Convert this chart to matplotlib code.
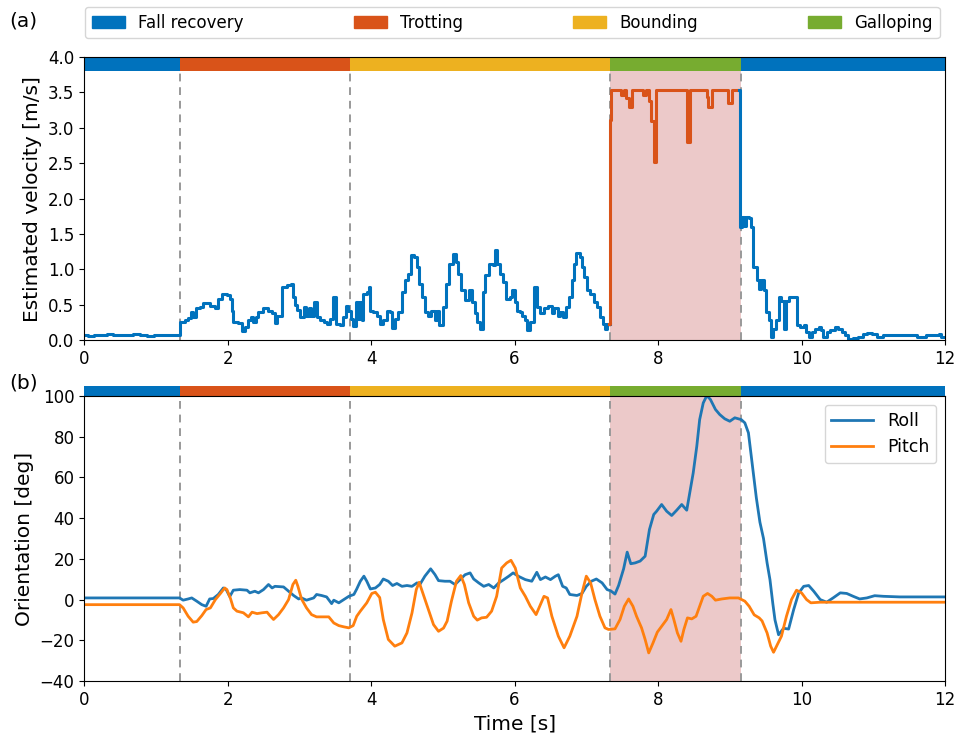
import numpy as np
import matplotlib
matplotlib.use('Agg')
from matplotlib import pyplot as plt
from matplotlib.patches import Patch, Rectangle
import matplotlib.transforms as mtrans

plt.rcParams['font.size'] = 12

# gait phases
phase_names = ['Fall recovery', 'Trotting', 'Bounding', 'Galloping']
phase_colors = ['#0072BD', '#D95319', '#EDB120', '#77AC30']
phase_bounds = [0, 1.33, 3.70, 7.33, 9.15, 12]
phase_seq = [0, 1, 2, 3, 0]
fall_span = (7.33, 9.15)

# estimated velocity (step data)
vel1_t = [0.00, 0.06, 0.14, 0.22, 0.32, 0.40, 0.50, 0.60, 0.68, 0.78, 0.88, 0.98, 1.08, 1.18, 1.26,
          1.34, 1.40, 1.45, 1.49, 1.52, 1.56, 1.62, 1.66, 1.71, 1.76, 1.83, 1.87, 1.92, 1.99, 2.03,
          2.06, 2.08, 2.15, 2.20, 2.24, 2.28, 2.32, 2.36, 2.40, 2.43, 2.50, 2.57, 2.62, 2.66, 2.69,
          2.76, 2.83, 2.88, 2.91, 2.94, 2.97, 3.01, 3.06, 3.09, 3.13, 3.16, 3.20, 3.24, 3.29, 3.34,
          3.38, 3.43, 3.47, 3.51, 3.57, 3.61, 3.65, 3.68, 3.72, 3.75, 3.79, 3.82, 3.85, 3.87, 3.89,
          3.94, 3.97, 3.99, 4.03, 4.08, 4.12, 4.17, 4.22, 4.26, 4.29, 4.33, 4.38, 4.43, 4.47, 4.52,
          4.55, 4.60, 4.64, 4.67, 4.71, 4.75, 4.80, 4.84, 4.89, 4.92, 4.95, 5.00, 5.05, 5.09, 5.14,
          5.18, 5.21, 5.26, 5.31, 5.36, 5.40, 5.45, 5.48, 5.52, 5.56, 5.59, 5.65, 5.70, 5.73, 5.76,
          5.80, 5.84, 5.88, 5.93, 5.97, 6.01, 6.04, 6.08, 6.11, 6.14, 6.18, 6.22, 6.27, 6.31, 6.35,
          6.41, 6.47, 6.52, 6.55, 6.60, 6.63, 6.67, 6.72, 6.76, 6.80, 6.83, 6.86, 6.91, 6.94, 6.97,
          7.01, 7.05, 7.11, 7.15, 7.19, 7.23, 7.26, 7.29, 7.33]
vel1_v = [0.08, 0.06, 0.07, 0.08, 0.09, 0.08, 0.08, 0.07, 0.09, 0.07, 0.06, 0.08, 0.07, 0.08, 0.07,
          0.26, 0.28, 0.31, 0.40, 0.33, 0.45, 0.47, 0.52, 0.53, 0.49, 0.45, 0.59, 0.66, 0.64, 0.58,
          0.42, 0.26, 0.24, 0.13, 0.19, 0.29, 0.33, 0.26, 0.33, 0.40, 0.45, 0.42, 0.38, 0.25, 0.35,
          0.75, 0.78, 0.80, 0.61, 0.50, 0.43, 0.33, 0.47, 0.35, 0.45, 0.35, 0.54, 0.33, 0.28, 0.26,
          0.23, 0.30, 0.61, 0.23, 0.21, 0.33, 0.49, 0.42, 0.30, 0.20, 0.54, 0.30, 0.54, 0.28, 0.66,
          0.68, 0.75, 0.42, 0.40, 0.34, 0.23, 0.28, 0.42, 0.40, 0.18, 0.30, 0.40, 0.68, 0.85, 0.94,
          1.20, 1.18, 1.04, 0.80, 0.61, 0.40, 0.35, 0.42, 0.28, 0.42, 0.21, 0.47, 0.80, 1.08, 1.22,
          1.11, 0.94, 0.71, 0.57, 0.71, 0.54, 0.38, 0.26, 0.16, 0.68, 0.92, 1.08, 1.06, 1.27, 1.08,
          0.94, 0.82, 0.59, 0.61, 0.71, 0.54, 0.42, 0.40, 0.35, 0.28, 0.14, 0.26, 0.75, 0.47, 0.38,
          0.45, 0.49, 0.38, 0.45, 0.35, 0.40, 0.33, 0.47, 0.61, 0.85, 1.08, 1.23, 1.18, 1.04, 0.89,
          0.71, 0.66, 0.54, 0.47, 0.33, 0.23, 0.16, 0.23, 0.23]

vel_fall_t = [7.32, 7.33, 7.35, 7.48, 7.52, 7.56, 7.59, 7.63, 7.79, 7.83, 7.88, 7.90, 7.94, 7.97,
              8.40, 8.45, 8.68, 8.70, 8.75, 8.98, 9.03, 9.13]
vel_fall_v = [0.23, 3.11, 3.53, 3.46, 3.53, 3.42, 3.30, 3.53, 3.47, 3.53, 3.38, 3.09, 2.52, 3.53,
              2.80, 3.53, 3.43, 3.30, 3.53, 3.35, 3.53, 3.53]

vel2_t = [9.13, 9.14, 9.17, 9.20, 9.23, 9.27, 9.30, 9.33, 9.38, 9.41, 9.44, 9.47, 9.50, 9.54, 9.57,
          9.60, 9.65, 9.68, 9.72, 9.76, 9.79, 9.83, 9.91, 9.93, 9.98, 10.03, 10.06, 10.10, 10.14,
          10.19, 10.24, 10.27, 10.30, 10.35, 10.39, 10.47, 10.51, 10.56, 10.61, 10.65, 10.72, 10.79,
          10.86, 10.91, 10.98, 11.05, 11.14, 11.28, 11.42, 11.61, 11.70, 11.74, 11.84, 11.91, 11.95, 12.0]
vel2_v = [3.53, 1.60, 1.74, 1.62, 1.74, 1.72, 1.60, 1.04, 0.85, 0.73, 0.85, 0.71, 0.40, 0.28, 0.05,
          0.16, 0.28, 0.61, 0.56, 0.16, 0.56, 0.61, 0.61, 0.21, 0.19, 0.21, 0.12, 0.05, 0.12,
          0.16, 0.19, 0.14, 0.04, 0.12, 0.15, 0.19, 0.16, 0.12, 0.07, 0.02, 0.03, 0.05,
          0.09, 0.10, 0.09, 0.05, 0.07, 0.07, 0.07, 0.05, 0.04, 0.08, 0.07, 0.09, 0.05, 0.05]

# orientation
roll_t = [0.00, 1.33, 1.38, 1.45, 1.50, 1.57, 1.64, 1.70, 1.75, 1.80, 1.87, 1.94, 1.98, 2.03, 2.08,
          2.17, 2.27, 2.31, 2.38, 2.43, 2.50, 2.57, 2.62, 2.66, 2.78, 2.85, 2.92, 2.99, 3.03, 3.10,
          3.20, 3.24, 3.31, 3.38, 3.45, 3.48, 3.55, 3.62, 3.69, 3.76, 3.80, 3.85, 3.90, 3.94, 3.99,
          4.06, 4.12, 4.17, 4.24, 4.30, 4.36, 4.43, 4.50, 4.57, 4.64, 4.68, 4.75, 4.83, 4.89, 4.94,
          5.03, 5.10, 5.17, 5.24, 5.31, 5.38, 5.43, 5.50, 5.57, 5.64, 5.71, 5.78, 5.85, 5.92, 5.98,
          6.05, 6.15, 6.24, 6.31, 6.36, 6.43, 6.50, 6.57, 6.61, 6.67, 6.72, 6.77, 6.87, 6.94, 7.00,
          7.07, 7.14, 7.22, 7.29, 7.34, 7.40, 7.45, 7.52, 7.57, 7.62, 7.68, 7.75, 7.82, 7.88, 7.94,
          7.98, 8.05, 8.12, 8.19, 8.26, 8.33, 8.40, 8.45, 8.49, 8.54, 8.58, 8.63, 8.68, 8.73, 8.80,
          8.86, 8.93, 9.00, 9.07, 9.16, 9.21, 9.26, 9.30, 9.37, 9.42, 9.47, 9.52, 9.56, 9.60, 9.63,
          9.68, 9.75, 9.82, 9.89, 9.96, 10.03, 10.10, 10.17, 10.26, 10.35, 10.44, 10.54, 10.63,
          10.72, 10.81, 10.91, 11.02, 11.14, 11.37, 11.60, 12.0]
roll_v = [0.8, 0.8, -0.3, 0.3, 0.8, -0.8, -2.5, -3.3, 0.3, 0.5, 2.5, 5.7, 4.9, 1.5, 4.6,
          4.9, 4.6, 3.3, 4.1, 3.3, 4.9, 7.4, 5.7, 6.5, 6.2, 4.1, 2.0, 0.3, 0.8, -0.3,
          0.8, 2.5, 2.0, 1.3, -2.0, -0.3, -1.6, 0.0, 1.6, 2.5, 5.2, 9.0, 11.5, 9.0, 5.2,
          5.7, 7.4, 10.1, 9.0, 6.9, 7.9, 6.5, 6.9, 6.5, 8.2, 7.4, 11.5, 15.1, 12.3, 9.3,
          9.0, 9.0, 7.4, 9.8, 12.2, 13.1, 10.1, 8.2, 6.5, 7.4, 5.7, 8.2, 9.8, 11.5, 13.1,
          11.5, 9.8, 9.0, 13.4, 9.8, 11.1, 9.8, 11.5, 12.2, 6.5, 5.7, 2.5, 2.0, 3.0, 6.5,
          9.0, 10.1, 8.2, 4.9, 4.3, 2.7, 6.9, 15.1, 23.3, 17.6, 18.0, 18.9, 21.3, 34.4, 41.8,
          43.4, 46.7, 43.4, 41.3, 43.9, 46.7, 43.9, 54.0, 62.2, 75.3, 88.4, 96.6, 100.2, 98.3, 93.4,
          90.9, 88.8, 87.6, 89.3, 88.4, 86.8, 81.9, 70.4, 50.0, 38.0, 30.0, 18.0, 9.8, -2.0, -10.0,
          -17.3, -14.1, -14.5, -5.0, 3.2, 6.5, 6.9, 4.1, 0.0, -1.3, 0.8, 3.3, 3.0,
          1.6, 0.3, 0.8, 1.9, 1.6, 1.3, 1.3, 1.3]

pitch_t = [0.00, 1.33, 1.38, 1.45, 1.52, 1.57, 1.64, 1.70, 1.76, 1.83, 1.90, 1.96, 1.99, 2.04, 2.08,
           2.13, 2.22, 2.29, 2.34, 2.41, 2.48, 2.55, 2.59, 2.64, 2.71, 2.78, 2.85, 2.91, 2.95, 2.98,
           3.03, 3.10, 3.17, 3.24, 3.34, 3.41, 3.48, 3.55, 3.62, 3.69, 3.75, 3.80, 3.85, 3.94, 4.01,
           4.06, 4.12, 4.17, 4.24, 4.33, 4.43, 4.50, 4.57, 4.63, 4.67, 4.72, 4.79, 4.87, 4.94, 5.01,
           5.06, 5.12, 5.19, 5.25, 5.30, 5.36, 5.43, 5.48, 5.54, 5.61, 5.68, 5.75, 5.82, 5.89, 5.95,
           6.01, 6.08, 6.15, 6.22, 6.30, 6.36, 6.41, 6.46, 6.52, 6.61, 6.69, 6.77, 6.87, 6.94, 7.00,
           7.06, 7.12, 7.19, 7.26, 7.31, 7.40, 7.47, 7.53, 7.59, 7.65, 7.70, 7.77, 7.82, 7.87, 7.93,
           7.99, 8.05, 8.12, 8.18, 8.22, 8.27, 8.32, 8.36, 8.41, 8.47, 8.53, 8.58, 8.63, 8.69, 8.75,
           8.80, 8.89, 9.00, 9.12, 9.21, 9.27, 9.34, 9.41, 9.45, 9.52, 9.57, 9.61, 9.65, 9.72, 9.79,
           9.86, 9.93, 10.00, 10.07, 10.13, 10.26, 10.68, 12.0]
pitch_v = [-2.5, -2.5, -4.1, -8.2, -11.1, -10.8, -7.9, -4.9, -4.1, 0.0, 3.0, 5.7, 4.9, 0.5, -4.1,
           -5.7, -6.5, -8.5, -6.2, -6.9, -6.5, -6.2, -7.9, -9.8, -7.4, -4.1, 0.0, 7.4, 9.5, 6.5,
           0.3, -4.1, -7.4, -8.5, -8.5, -8.5, -11.5, -12.8, -13.4, -13.9, -12.8, -8.2, -5.7, -1.6, 3.0,
           3.6, 1.0, -9.8, -19.6, -22.9, -21.3, -16.4, -6.6, 4.9, 8.5, 3.3, -4.1, -12.3, -15.6, -14.0,
           -10.6, -0.8, 9.0, 11.8, 7.4, -1.6, -8.2, -10.1, -9.0, -8.7, -5.7, 1.6, 15.5, 18.0, 19.3,
           15.5, 5.7, 1.6, -3.3, -7.4, -2.5, 1.6, 0.8, -8.2, -18.0, -23.7, -18.0, -8.2, 3.3, 11.5,
           8.2, 0.0, -8.2, -13.9, -14.7, -14.4, -9.8, -3.3, 0.3, -3.3, -8.2, -13.9, -19.6, -26.2, -21.3,
           -16.0, -13.1, -9.8, -4.9, -9.8, -16.4, -20.5, -14.7, -9.0, -9.5, -8.2, -3.3, 1.6, 3.0, 1.6,
           -0.3, 0.3, 0.8, 0.8, -0.8, -3.3, -7.5, -9.0, -10.5, -16.4, -22.9, -25.9, -23.0, -18.0, -8.2,
           0.0, 4.6, 3.3, 0.0, -1.6, -1.3, -1.3, -1.3]

fig = plt.figure(figsize=(9.56, 7.35), dpi=100)
ax1 = fig.add_axes([0.088, 0.537, 0.9005, 0.3855])
ax2 = fig.add_axes([0.088, 0.0735, 0.9005, 0.3877])

dash_col = '#999999'
pink = '#ecc9c9'

# ---- (a) velocity
ax1.axvspan(fall_span[0], fall_span[1], ymin=0, ymax=3.8 / 4.0, color=pink, lw=0)
for i in range(len(phase_seq)):
    x0, x1 = phase_bounds[i], phase_bounds[i + 1]
    ax1.bar(x0, 0.2, width=x1 - x0, bottom=3.8, align='edge', color=phase_colors[phase_seq[i]], lw=0)
for b in phase_bounds[1:-1]:
    ax1.vlines(b, 0, 3.8, colors=dash_col, linestyles=(0, (4, 3)), lw=1.4)
ax1.step(vel1_t, vel1_v, where='post', color='#0072BD', lw=2.2)
ax1.step(vel_fall_t, vel_fall_v, where='post', color='#D95319', lw=2.2)
ax1.step(vel2_t, vel2_v, where='post', color='#0072BD', lw=2.2)
ax1.set_xlim(0, 12)
ax1.set_ylim(0, 4.0)
ax1.set_yticks(np.arange(0, 4.01, 0.5))
ax1.set_xticks(range(0, 13, 2))
ax1.set_ylabel('Estimated velocity [m/s]', fontsize=14.5)

# ---- (b) orientation
ax2.axvspan(fall_span[0], fall_span[1], color=pink, lw=0)
trans = mtrans.blended_transform_factory(ax2.transData, ax2.transAxes)
for i in range(len(phase_seq)):
    x0, x1 = phase_bounds[i], phase_bounds[i + 1]
    ax2.add_patch(Rectangle((x0, 1.0), x1 - x0, 0.036, transform=trans, clip_on=False,
                            color=phase_colors[phase_seq[i]], lw=0))
for b in phase_bounds[1:-1]:
    ax2.axvline(b, color=dash_col, linestyle=(0, (4, 3)), lw=1.4)
ax2.plot(roll_t, roll_v, color='tab:blue', lw=2, label='Roll')
ax2.plot(pitch_t, pitch_v, color='tab:orange', lw=2, label='Pitch')
ax2.set_xlim(0, 12)
ax2.set_ylim(-40, 100)
ax2.set_yticks(range(-40, 101, 20))
ax2.set_xticks(range(0, 13, 2))
ax2.set_xlabel('Time [s]', fontsize=14.5)
ax2.set_ylabel('Orientation [deg]', fontsize=14.5)
ax2.legend(loc='upper right', fontsize=12.5, handlelength=2.4)

handles = [Patch(color=c, label=n) for c, n in zip(phase_colors, phase_names)]
fig.legend(handles=handles, loc='lower left', bbox_to_anchor=(0.089, 0.948, 0.894, 0.045),
           mode='expand', ncol=4, borderaxespad=0, fontsize=12)

fig.text(0.010, 0.972, '(a)', fontsize=14.5, va='center')
fig.text(0.010, 0.479, '(b)', fontsize=14.5, va='center')

fig.savefig('out.png', dpi=100)
